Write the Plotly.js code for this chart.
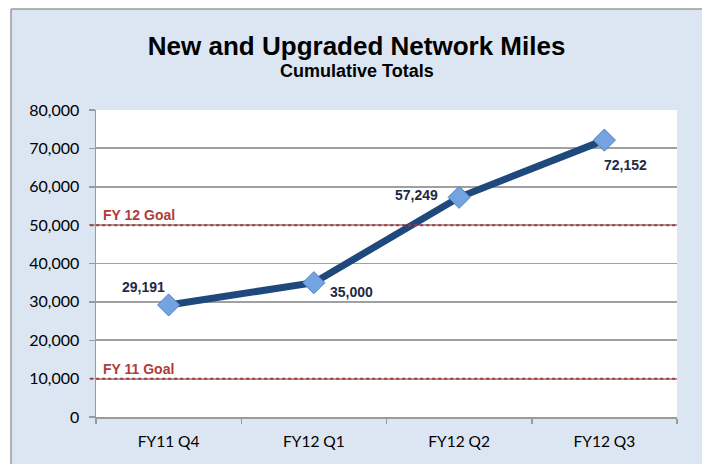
<!DOCTYPE html>
<html>
<head>
<meta charset="utf-8">
<script src="https://cdn.plot.ly/plotly-3.0.1.min.js"></script>
<style>html,body{margin:0;padding:0;background:#fff;}#chart{width:702px;height:464px;}</style>
</head>
<body>
<div id="chart"></div>
<script>
const categories = ["FY11 Q4", "FY12 Q1", "FY12 Q2", "FY12 Q3"];
const miles = [29191, 35000, 57249, 72152];
const labelText = ["29,191", "35,000", "57,249", "72,152"];
const goalValues = [50000, 10000];
const goalNames = ["FY 12 Goal", "FY 11 Goal"];
const yTicks = [0, 10000, 20000, 30000, 40000, 50000, 60000, 70000, 80000];
const yTickText = ["0", "10,000", "20,000", "30,000", "40,000", "50,000", "60,000", "70,000", "80,000"];

// label placement styles (per point)
const labelStyle = [
  {xanchor: "right", xshift: -2, yshift: 18},
  {xanchor: "left", xshift: 14, yshift: -9},
  {xanchor: "right", xshift: -19, yshift: 2},
  {xanchor: "left", xshift: -2, yshift: -25}
];

const trace = {
  x: categories,
  y: miles,
  type: "scatter",
  mode: "lines+markers",
  line: {color: "#1f497d", width: 7},
  marker: {symbol: "diamond", size: 17, color: "#74a3e2", line: {color: "#4f7fc0", width: 1}},
  hoverinfo: "skip",
  cliponaxis: false
};

const annotations = [];
miles.forEach((v, i) => {
  annotations.push(Object.assign({
    x: categories[i], y: v, xref: "x", yref: "y",
    text: labelText[i], showarrow: false, yanchor: "middle",
    font: {family: "Liberation Sans, Arial, sans-serif", size: 14, color: "#1f2a44", weight: "bold"}
  }, labelStyle[i]));
});
goalValues.forEach((g, i) => {
  annotations.push({
    x: 0.008, xref: "paper", y: g, yref: "y", text: "<b>" + goalNames[i] + "</b>",
    showarrow: false, xanchor: "left", yanchor: "bottom", yshift: 0,
    font: {family: "Liberation Sans, Arial, sans-serif", size: 14, color: "#b03c3a"}
  });
});
annotations.push({
  x: 0.449, xref: "paper", y: 1.126, yref: "paper", text: "<b>Cumulative Totals</b>",
  showarrow: false, xanchor: "center", yanchor: "middle",
  font: {family: "Liberation Sans, Arial, sans-serif", size: 18, color: "#000"}
});

const shapes = [];
goalValues.forEach(g => {
  shapes.push({type: "line", xref: "paper", yref: "y", x0: -0.01, x1: 1, y0: g, y1: g,
    line: {color: "#a8383a", width: 2, dash: "dot"}, layer: "above"});
});
// outer frame: white strips outside the light-blue panel and grey border
shapes.push({type: "rect", xref: "paper", yref: "paper", x0: -0.2, x1: -0.1463, y0: -0.3, y1: 1.5,
  fillcolor: "#ffffff", line: {width: 0}, layer: "below"});
shapes.push({type: "rect", xref: "paper", yref: "paper", x0: -0.2, x1: 1.2, y0: 1.329, y1: 1.5,
  fillcolor: "#ffffff", line: {width: 0}, layer: "below"});
shapes.push({type: "line", xref: "paper", yref: "paper", x0: -0.1463, x1: -0.1463, y0: -0.3, y1: 1.329,
  line: {color: "#9a9a9a", width: 1.5}, layer: "below"});
shapes.push({type: "line", xref: "paper", yref: "paper", x0: -0.1463, x1: 1.2, y0: 1.329, y1: 1.329,
  line: {color: "#9a9a9a", width: 1.5}, layer: "below"});

const layout = {
  width: 702, height: 464,
  margin: {l: 96, r: 25, t: 110, b: 47},
  paper_bgcolor: "#dce6f2",
  plot_bgcolor: "#ffffff",
  showlegend: false,
  title: {
    text: "<b>New and Upgraded Network Miles</b>",
    x: 0.508, xanchor: "center", y: 0.902, yanchor: "middle", xref: "container",
    font: {family: "Liberation Sans, Arial, sans-serif", size: 26, color: "#000"}
  },
  xaxis: {
    type: "category",
    range: [-0.5, 3.5],
    tickson: "boundaries",
    ticks: "outside", ticklen: 5, tickcolor: "#9a9a9a", tickwidth: 1.5,
    showline: true, linecolor: "#9a9a9a", linewidth: 1.5,
    showgrid: false, zeroline: false,
    ticklabelstandoff: 10,
    tickfont: {family: "Lato, Open Sans, sans-serif", size: 15.5, color: "#000"},
    fixedrange: true
  },
  yaxis: {
    range: [0, 80000],
    tickvals: yTicks, ticktext: yTickText,
    ticks: "outside", ticklen: 6, tickcolor: "#9a9a9a", tickwidth: 1.5,
    showline: true, linecolor: "#9a9a9a", linewidth: 1.5,
    showgrid: true, gridcolor: "#a0a0a0", gridwidth: 1.8,
    zeroline: false,
    ticklabelstandoff: 6,
    tickfont: {family: "Lato, Open Sans, sans-serif", size: 16, color: "#000"},
    fixedrange: true
  },
  annotations: annotations,
  shapes: shapes
};

Plotly.newPlot("chart", [trace], layout, {displayModeBar: false, staticPlot: true});
</script>
</body>
</html>
